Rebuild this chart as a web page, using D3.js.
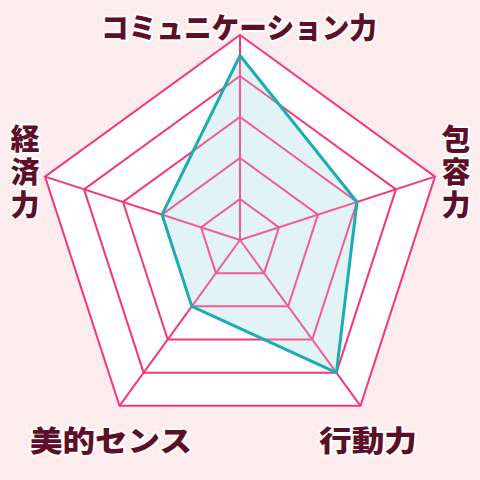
<!DOCTYPE html>
<meta charset="utf-8">
<style>
body { margin: 0; background: #fdeced; }
svg { display: block; }
.label {
  font-family: "Noto Sans CJK JP", sans-serif;
  font-weight: 900;
  fill: #5e0f28;
  stroke: #ffffff;
  stroke-width: 4px;
  paint-order: stroke;
  stroke-linejoin: round;
}
</style>
<body>
<script src="https://d3js.org/d3.v7.min.js"></script>
<script>

// axes, clockwise from the top
var axes = ["コミュニケーション力", "包容力", "行動力", "美的センス", "経済力"];
var values = [4.5, 3, 4, 2, 2];
var levels = [1, 2, 3, 4, 5];

var width = 480, height = 480;
var cx = 240, cy = 240;

var svg = d3.select("body").append("svg")
    .attr("width", width)
    .attr("height", height);

svg.append("rect")
    .attr("width", width)
    .attr("height", height)
    .attr("fill", "#fdeced");

var g = svg.append("g")
    .attr("transform", "translate(" + cx + "," + cy + ")");

// radial scale, 5 rings
var r = d3.scaleLinear().domain([0, 5]).range([0, 205]);
var angle = d3.scaleLinear().domain([0, axes.length]).range([0, 2 * Math.PI]);

function pt(i, v) {
  var a = angle(i);
  return [r(v) * Math.sin(a), -r(v) * Math.cos(a)];
}

function ring(v) {
  return axes.map(function(d, i) { return pt(i, v); });
}

var line = d3.line().curve(d3.curveLinearClosed);
var dataPts = values.map(function(v, i) { return pt(i, v); });

// white outer area
g.append("path")
    .attr("d", line(ring(5)))
    .attr("fill", "#ffffff");

// data fill (under the grid)
g.append("path")
    .attr("d", line(dataPts))
    .attr("fill", "#e2f3f4");

// grid rings
g.selectAll(".ring")
  .data(levels)
  .enter().append("path")
    .attr("class", "ring")
    .attr("d", function(d) { return line(ring(d)); })
    .attr("fill", "none")
    .attr("stroke", "#f5357f")
    .attr("stroke-width", 2);

// spokes
g.selectAll(".spoke")
  .data(axes)
  .enter().append("line")
    .attr("class", "spoke")
    .attr("x1", 0).attr("y1", 0)
    .attr("x2", function(d, i) { return pt(i, 5)[0]; })
    .attr("y2", function(d, i) { return pt(i, 5)[1]; })
    .attr("stroke", "#f5357f")
    .attr("stroke-width", 2);

// soften the grid inside the data area a little
g.append("path")
    .attr("d", line(dataPts))
    .attr("fill", "#e2f3f4")
    .attr("fill-opacity", 0.2);

// data outline
g.append("path")
    .attr("d", line(dataPts))
    .attr("fill", "none")
    .attr("stroke", "#1badb5")
    .attr("stroke-width", 3)
    .attr("stroke-linejoin", "round");

// labels
var fs = 29;
svg.append("text")
    .attr("class", "label")
    .attr("x", 239).attr("y", 39)
    .attr("text-anchor", "middle")
    .attr("font-size", fs)
    .attr("textLength", 276)
    .attr("lengthAdjust", "spacingAndGlyphs")
    .text(axes[0]);

function vertical(text, x, y0) {
  svg.append("text")
      .attr("class", "label")
      .attr("x", x)
      .attr("y", y0)
      .attr("writing-mode", "vertical-rl")
      .attr("letter-spacing", 4)
      .attr("font-size", fs)
      .text(text);
}
vertical(axes[1], 456, 124);
vertical(axes[4], 25, 124);

svg.append("text")
    .attr("class", "label")
    .attr("x", 368).attr("y", 452)
    .attr("text-anchor", "middle")
    .attr("font-size", fs)
    .attr("textLength", 98)
    .attr("lengthAdjust", "spacingAndGlyphs")
    .text(axes[2]);

svg.append("text")
    .attr("class", "label")
    .attr("x", 111).attr("y", 452)
    .attr("text-anchor", "middle")
    .attr("font-size", fs)
    .attr("textLength", 162)
    .attr("lengthAdjust", "spacingAndGlyphs")
    .text(axes[3]);

</script>
</body>
